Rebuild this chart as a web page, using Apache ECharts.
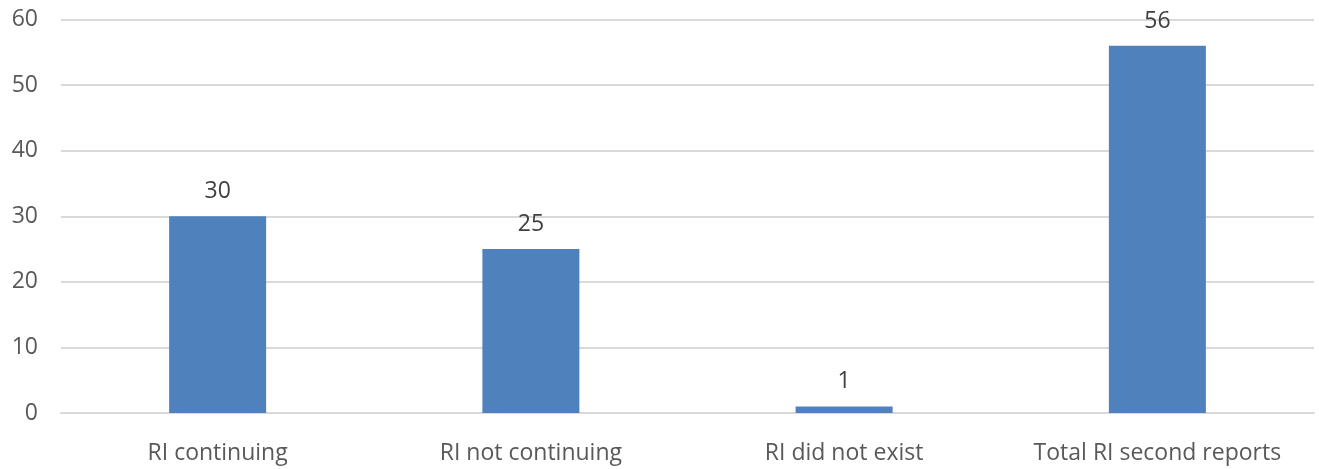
<!DOCTYPE html>
<html><head><meta charset="utf-8">
<script src="https://cdn.jsdelivr.net/npm/echarts@6/dist/echarts.min.js"></script>
<style>html,body{margin:0;padding:0;background:#fff}#c{width:1319px;height:469px}</style>
</head><body><div id="c"></div>
<script>
const categories = ['RI continuing', 'RI not continuing', 'RI did not exist', 'Total RI second reports'];
const values = [30, 25, 1, 56];
const yTicks = { min: 0, max: 60, interval: 10 };

const chart = echarts.init(document.getElementById('c'), null, {renderer: 'canvas'});
const font = '"Open Sans", sans-serif';
chart.setOption({
  animation: false,
  grid: { left: 61, right: 5, top: 19.5, bottom: 56, containLabel: false },
  xAxis: {
    type: 'category', data: categories,
    axisLine: { show: true, lineStyle: { color: '#d9d9d9', width: 2 } },
    axisTick: { show: false },
    axisLabel: { interval: 0, hideOverlap: false, color: '#595959', fontSize: 23, fontFamily: font, margin: 29 }
  },
  yAxis: {
    type: 'value', min: yTicks.min, max: yTicks.max, interval: yTicks.interval,
    axisLine: { show: false }, axisTick: { show: false },
    splitLine: { lineStyle: { color: '#d9d9d9', width: 2 } },
    axisLabel: { color: '#595959', fontSize: 23, fontFamily: font, margin: 23 }
  },
  series: [{
    type: 'bar', data: values, barWidth: 97,
    itemStyle: { color: '#4F81BD' },
    label: { show: true, position: 'top', distance: 13, color: '#404040', fontSize: 23, fontFamily: font }
  }]
});
</script></body></html>
